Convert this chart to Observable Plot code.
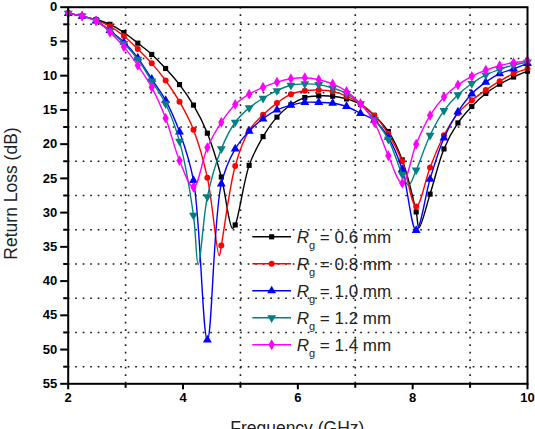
<!DOCTYPE html>
<html>
<head>
<meta charset="utf-8">
<script src="https://cdn.jsdelivr.net/npm/d3@7"></script>
<script src="https://cdn.jsdelivr.net/npm/@observablehq/plot@0.6"></script>
<style>
  html, body { margin: 0; padding: 0; background: #fff; }
  #chart svg { display: block; }
</style>
</head>
<body>
<div id="chart"></div>
<script>
// Sampled frequencies (GHz) where the simulation markers sit
const freqGHz = [2.000, 2.242, 2.485, 2.727, 2.970, 3.212, 3.455, 3.697, 3.939, 4.182,
                 4.424, 4.667, 4.909, 5.152, 5.394, 5.636, 5.879, 6.121, 6.364, 6.606,
                 6.848, 7.091, 7.333, 7.576, 7.818, 8.061, 8.303, 8.545, 8.788, 9.030,
                 9.273, 9.515, 9.758, 10.000];

// Return loss (dB) for each ring gap Rg
const rl06 = [0.9, 1.3, 1.8, 2.5, 3.7, 5.25, 6.9, 8.95, 11.3, 14.3, 18.4, 24.8, 31.8, 23.1, 18.9, 16.05, 14.25,
              13.2, 12.95, 13.0, 13.4, 14.2, 15.8, 18.15, 22.3, 29.9, 27.3, 20.7, 16.9, 14.5, 12.6, 11.25, 10.2, 9.35];
const rl08 = [0.9, 1.3, 1.9, 2.8, 4.2, 6.1, 8.2, 10.7, 13.8, 17.9, 24.9, 34.8, 23.2, 18.0, 15.7, 14.0, 12.7,
              12.2, 12.1, 12.3, 13.0, 14.1, 15.8, 18.5, 22.5, 29.1, 23.4, 18.7, 15.5, 13.6, 12.1, 10.8, 9.7, 9.0];
const rl10 = [0.9, 1.3, 2.0, 3.4, 5.1, 7.4, 10.5, 13.6, 18.2, 25.3, 48.6, 25.8, 20.7, 18.1, 16.3, 15.0, 14.3,
              13.9, 13.9, 14.0, 14.5, 15.5, 16.5, 19.0, 23.7, 32.6, 25.1, 19.1, 15.3, 12.65, 10.95, 9.7, 9.0, 8.2];
const rl12 = [0.9, 1.3, 2.0, 3.5, 5.3, 7.6, 10.8, 14.1, 19.6, 30.4, 27.7, 20.7, 16.8, 14.7, 13.3, 12.2, 11.4,
              11.2, 11.3, 11.8, 12.6, 14.1, 16.4, 19.3, 24.4, 23.8, 18.7, 15.1, 12.8, 11.15, 9.9, 9.1, 8.45, 8.0];
const rl14 = [0.9, 1.3, 2.0, 3.65, 5.8, 8.5, 11.7, 16.2, 22.4, 26.3, 20.5, 16.8, 14.2, 12.7, 11.7, 10.95, 10.45,
              10.3, 10.6, 11.2, 12.3, 14.1, 16.8, 21.7, 25.7, 20.0, 15.8, 13.1, 11.35, 10.1, 9.2, 8.55, 8.1, 7.85];

// Resonance minima that fall between marker samples: [GHz, dB]
const notch06 = [[4.86, 32.3], [8.11, 32.2]];
const notch08 = [[4.63, 36.3]];
const notch10 = [];
const notch12 = [[4.265, 37.6], [7.93, 26.0]];
const notch14 = [];

const gapLabels = ["0.6", "0.8", "1.0", "1.2", "1.4"];
const gapColors = ["#000000", "#ff0000", "#0000ff", "#008080", "#ff00ff"];
const gapSymbols = ["square", "circle", "triangle", "triangle", "diamond"];
const gapRotate = [0, 0, 0, 180, 0];
const gapRadius = [2.9, 3.0, 3.3, 3.3, 3.3];

const xMajor = [2, 4, 6, 8, 10];
const xMinor = [3, 5, 7, 9];
const yMajor = [0, 5, 10, 15, 20, 25, 30, 35, 40, 45, 50, 55];
const yMinor = [2.5, 7.5, 12.5, 17.5, 22.5, 27.5, 32.5, 37.5, 42.5, 47.5, 52.5];

const lossSeries = [rl06, rl08, rl10, rl12, rl14];
const notchSeries = [notch06, notch08, notch10, notch12, notch14];

// Marker rows and curve rows (markers plus minima), per series
const markerRows = [];
const curveRows = [];
lossSeries.forEach((vals, i) => {
  vals.forEach((v, k) => {
    const row = {gap: gapLabels[i], f: freqGHz[k], loss: v};
    markerRows.push(row);
    curveRows.push(row);
  });
  notchSeries[i].forEach(([f, v]) => curveRows.push({gap: gapLabels[i], f, loss: v}));
});
curveRows.sort((a, b) => a.f - b.f);

const W = 535, H = 429;
const font = "'Liberation Sans', Arial, Helvetica, sans-serif";
const dotted = {stroke: "#1a1a1a", strokeWidth: 1.6, strokeDasharray: "1.7,5.8"};

const seriesMarks = [];
gapLabels.forEach((g, i) => {
  seriesMarks.push(Plot.line(curveRows.filter(d => d.gap === g), {
    x: "f", y: "loss", stroke: gapColors[i], strokeWidth: 1.4, curve: "catmull-rom"
  }));
  seriesMarks.push(Plot.dot(markerRows.filter(d => d.gap === g), {
    x: "f", y: "loss", symbol: gapSymbols[i], r: gapRadius[i], rotate: gapRotate[i],
    fill: gapColors[i], stroke: "none"
  }));
});

const chart = Plot.plot({
  width: W,
  height: H,
  marginTop: 6.7,
  marginRight: 8,
  marginBottom: 45.7,
  marginLeft: 67.7,
  style: {fontFamily: font, fontSize: "13px", fontWeight: "bold", background: "#fff", color: "#000"},
  x: {domain: [2, 10]},
  y: {domain: [0, 55], reverse: true},
  marks: [
    Plot.ruleX(xMinor, dotted),
    Plot.ruleY(yMinor, dotted),
    ...seriesMarks,
    Plot.axisX(xMajor, {tickSize: 6, tickPadding: 3, strokeWidth: 2, label: null, fontWeight: "bold"}),
    Plot.axisX(xMinor, {tickSize: 4.5, strokeWidth: 2, tickFormat: () => "", label: null}),
    Plot.axisY(yMajor, {tickSize: 7.5, tickPadding: 3.5, strokeWidth: 2, label: null, fontWeight: "bold"}),
    Plot.axisY(yMinor, {tickSize: 4.5, strokeWidth: 2, tickFormat: () => "", label: null}),
    Plot.frame({stroke: "#000", strokeWidth: 2})
  ]
});

document.getElementById("chart").appendChild(chart);

const svg = d3.select(chart);

// Axis titles
svg.append("text")
  .attr("transform", "translate(16.5,193.5) rotate(-90)")
  .attr("text-anchor", "middle")
  .style("font-family", font).style("font-size", "17.5px").style("font-weight", "normal")
  .attr("fill", "#222")
  .text("Return Loss (dB)");

svg.append("text")
  .attr("x", 297.3).attr("y", 434.2)
  .attr("text-anchor", "middle")
  .style("font-family", font).style("font-size", "17.5px").style("font-weight", "normal")
  .attr("fill", "#222")
  .text("Frequency (GHz)");

// Legend: line sample with symbol, then "Rg = … mm"
const legendX0 = 252.3, legendX1 = 291, legendTextX = 296.7;
const legendY0 = 236.8, legendGap = 27;
const d3Symbols = {square: d3.symbolSquare, circle: d3.symbolCircle, triangle: d3.symbolTriangle, diamond: d3.symbolDiamond};
const legend = svg.append("g");
gapLabels.forEach((g, i) => {
  const y = legendY0 + i * legendGap;
  legend.append("line")
    .attr("x1", legendX0).attr("x2", legendX1).attr("y1", y).attr("y2", y)
    .attr("stroke", gapColors[i]).attr("stroke-width", 1.6);
  const r = gapRadius[i];
  legend.append("path")
    .attr("d", d3.symbol(d3Symbols[gapSymbols[i]], Math.PI * r * r)())
    .attr("transform", `translate(${(legendX0 + legendX1) / 2},${y}) rotate(${gapRotate[i]})`)
    .attr("fill", gapColors[i]);
  const t = legend.append("text")
    .attr("x", legendTextX).attr("y", y + 6)
    .attr("text-anchor", "start")
    .style("font-family", font).style("font-size", "17px").style("font-weight", "normal")
    .attr("fill", "#222");
  t.append("tspan").style("font-style", "italic").text("R");
  t.append("tspan").attr("dy", 6.5).style("font-size", "11px").text("g");
  t.append("tspan").attr("dy", -6.5).text(` = ${g} mm`);
});
</script>
</body>
</html>
